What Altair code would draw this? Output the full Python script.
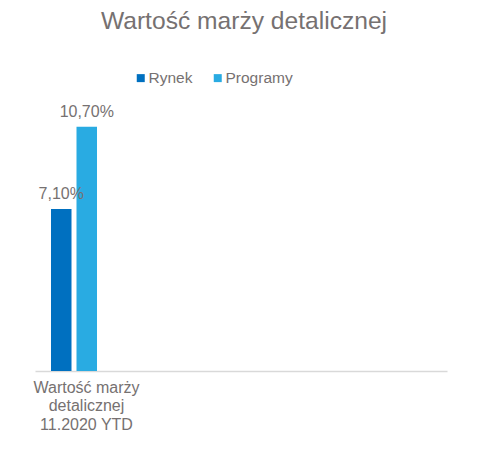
import altair as alt
import pandas as pd

category = ["Wartość marży\ndetalicznej\n11.2020 YTD"]
empty_slots = ["_2", "_3", "_4"]
series = ["Rynek", "Programy"]
values = [7.10, 10.70]
colors = ["#0070C0", "#29ABE2"]
title_text = "Wartość marży detalicznej"

df = pd.DataFrame({
    "kategoria": [category[0]] * len(series),
    "seria": series,
    "wartosc": values,
    "etykieta": [f"{v:.2f}".replace(".", ",") + "%" for v in values],
})

FONT = "Liberation Sans"
GRAY = "#767171"

x_enc = alt.X("kategoria:N", title=None,
              scale=alt.Scale(domain=category + empty_slots, paddingInner=0.058,
                              paddingOuter=0.029),
              axis=alt.Axis(labelExpr="indexof(datum.label, '_') == 0 ? '' : split(datum.label, '\\n')",
                            labelAngle=0,
                            labelFontSize=16, labelColor=GRAY, labelFont=FONT,
                            labelLineHeight=18.5, labelPadding=8, ticks=False,
                            domainColor="#D9D9D9", domainWidth=1.5, labelLimit=200))
xo_enc = alt.XOffset("seria:N", scale=alt.Scale(domain=series, paddingInner=0.196,
                                                paddingOuter=1, align=0.255))
y_enc = alt.Y("wartosc:Q", axis=None, scale=alt.Scale(domain=[0, 12]))

bars = alt.Chart(df).mark_bar().encode(
    x=x_enc, xOffset=xo_enc, y=y_enc,
    color=alt.Color("seria:N", scale=alt.Scale(domain=series, range=colors),
                    legend=alt.Legend(title=None, orient="none", direction="horizontal",
                                      legendX=98, legendY=-27, padding=0,
                                      symbolType="square", symbolSize=64,
                                      symbolStrokeWidth=0, labelFontSize=15.5,
                                      labelFont=FONT, labelColor=GRAY,
                                      labelOffset=0, columnPadding=17)),
)

labels = alt.Chart(df).mark_text(baseline="alphabetic", dy=-9.5, fontSize=16,
                                 font=FONT, color=GRAY).encode(
    x=x_enc, xOffset=xo_enc, y=y_enc, text="etykieta:N")

chart = (bars + labels).properties(
    width=412, height=274,
    title=alt.TitleParams(title_text, fontSize=24.6, font=FONT, color=GRAY,
                          fontWeight="normal", anchor="middle", offset=35, dx=3),
    autosize=alt.AutoSizeParams(type="none"),
    padding={"left": 27, "top": 89, "right": 46, "bottom": 80},
).configure_view(stroke=None)

chart.save("out.html", embed_options={"renderer": "svg", "actions": False})
